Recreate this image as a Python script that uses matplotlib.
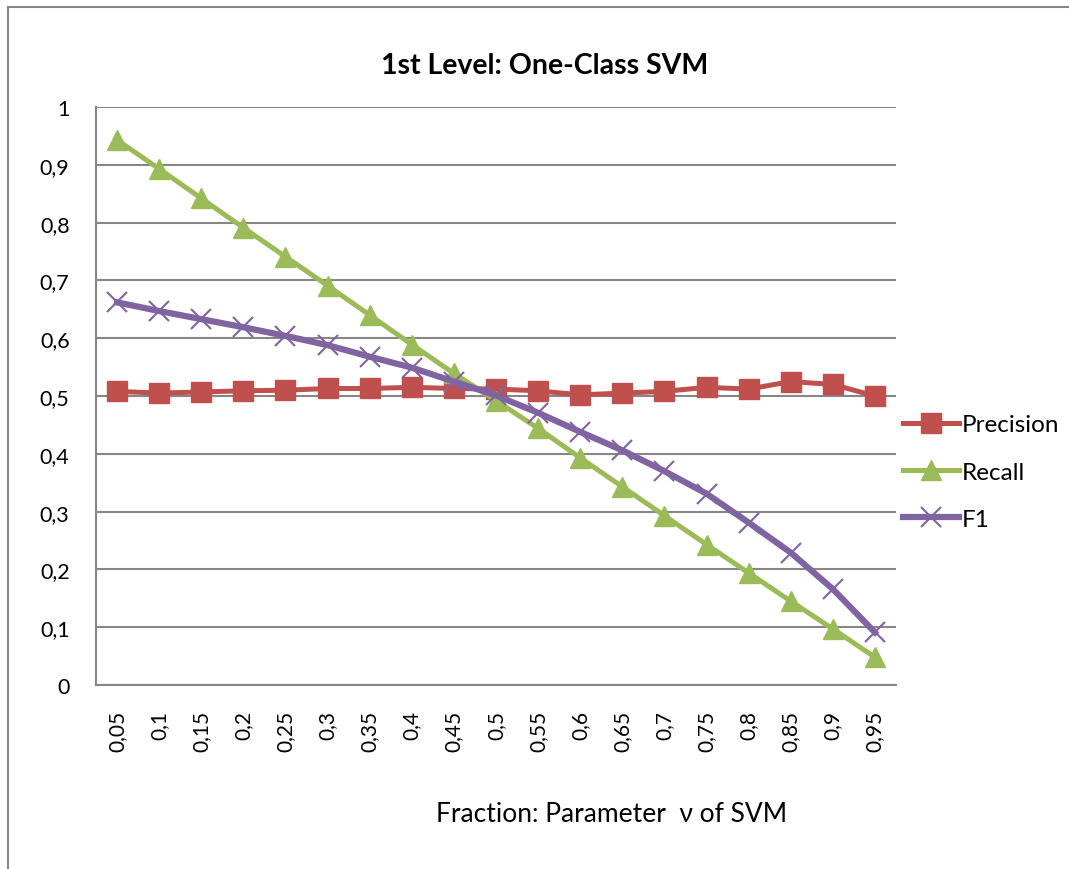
import numpy as np
import matplotlib.pyplot as plt
from matplotlib.lines import Line2D

nu_labels = ['0,05', '0,1', '0,15', '0,2', '0,25', '0,3', '0,35', '0,4', '0,45', '0,5',
             '0,55', '0,6', '0,65', '0,7', '0,75', '0,8', '0,85', '0,9', '0,95']
precision = [0.508, 0.505, 0.507, 0.509, 0.510, 0.513, 0.513, 0.515, 0.513, 0.512,
             0.509, 0.502, 0.505, 0.508, 0.515, 0.512, 0.525, 0.520, 0.500]
recall = [0.943, 0.893, 0.842, 0.791, 0.741, 0.691, 0.640, 0.589, 0.539, 0.492,
          0.444, 0.393, 0.343, 0.293, 0.243, 0.194, 0.145, 0.097, 0.048]
f1 = [0.662, 0.647, 0.633, 0.619, 0.604, 0.588, 0.568, 0.549, 0.525, 0.501,
      0.471, 0.438, 0.406, 0.370, 0.331, 0.281, 0.229, 0.166, 0.091]

plt.rcParams['font.family'] = ['Lato', 'DejaVu Sans']

W, H = 1069, 870
fig = plt.figure(figsize=(W / 100, H / 100), dpi=100)
ax = fig.add_axes([96 / W, 1 - 686 / H, 800 / W, 578 / H])

x = np.arange(len(nu_labels))
ax.plot(x, precision, color='#C0504D', lw=3.6, marker='s', ms=14.5,
        mec='#C0504D', mfc='#C0504D', label='Precision', zorder=3)
ax.plot(x, recall, color='#9BBB59', lw=3.6, marker='^', ms=15,
        mec='#9BBB59', mfc='#9BBB59', label='Recall', zorder=3)
ax.plot(x, f1, color='#8064A2', lw=4.5, marker='x', ms=14, mew=1.5,
        mec='#8064A2', label='F1', zorder=4)

ax.set_xlim(-0.5, len(nu_labels) - 0.5)
ax.set_ylim(0, 1)
ax.set_yticks(np.arange(0, 1.01, 0.1))
ax.set_yticklabels(['0', '0,1', '0,2', '0,3', '0,4', '0,5', '0,6', '0,7', '0,8', '0,9', '1'])
ax.set_xticks(x)
ax.set_xticklabels(nu_labels, rotation=90)
ax.tick_params(axis='y', length=0, pad=19, labelsize=15.5)
ax.tick_params(axis='x', length=0, pad=18, labelsize=15)
ax.grid(axis='y', color='#868686', lw=1.5)
ax.set_axisbelow(True)
for side in ['top', 'right']:
    ax.spines[side].set_visible(False)
for side in ['left', 'bottom']:
    ax.spines[side].set_color('#868686')
    ax.spines[side].set_linewidth(1.5)

fig.text(545 / W, 1 - 66 / H, '1st Level: One-Class SVM', ha='center', va='center',
         fontsize=20.5, fontweight='bold')
fig.text(612 / W, 1 - 815 / H, 'Fraction: Parameter  ν of SVM', ha='center', va='center',
         fontsize=19)

leg = fig.legend(loc='center left', bbox_to_anchor=(903 / W, 1 - 473 / H), frameon=False,
                 fontsize=17.5, handlelength=2.3, handletextpad=0.12, labelspacing=1.08,
                 borderaxespad=0, borderpad=0)

# outer chart border (left and top edges)
fig.add_artist(Line2D([8 / W, 8 / W], [0, 1 - 8 / H], color='#868686', lw=1.5))
fig.add_artist(Line2D([8 / W, 1], [1 - 8 / H, 1 - 8 / H], color='#868686', lw=1.5))

fig.savefig('out.png', dpi=100)
